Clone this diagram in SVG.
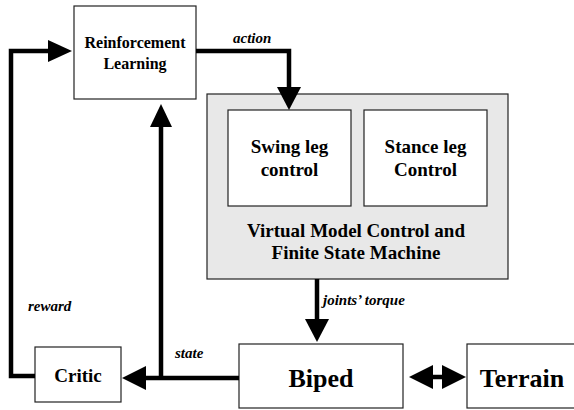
<svg xmlns="http://www.w3.org/2000/svg" width="574" height="410" viewBox="0 0 574 410">
<style>
.box{fill:#fff;stroke:#222;stroke-width:1.2}
.grey{fill:#e8e8e8;stroke:#222;stroke-width:1.2}
.t{font-family:"Liberation Serif","Times New Roman",serif;font-weight:bold;fill:#000;text-anchor:middle}
.lbl{font-family:"Liberation Serif","Times New Roman",serif;font-style:italic;font-weight:bold;font-size:15px;fill:#000}
.ln{fill:none;stroke:#000;stroke-width:4.5}
.ah{fill:#000}
</style>
<rect width="574" height="410" fill="#fff"/>
<g id="vmc">
<rect class="grey" x="207" y="94" width="301" height="185"/>
<text class="t" font-size="19" x="356" y="237">Virtual Model Control and</text>
<text class="t" font-size="19" x="356" y="259">Finite State Machine</text>
</g>
<g id="rl">
<rect class="box" x="74" y="6" width="122" height="93"/>
<text class="t" font-size="16" x="135" y="48">Reinforcement</text>
<text class="t" font-size="16" x="135" y="69">Learning</text>
</g>
<g id="swing">
<rect class="box" x="228" y="110" width="123" height="96"/>
<text class="t" font-size="19" x="289.5" y="153">Swing leg</text>
<text class="t" font-size="19" x="289.5" y="176">control</text>
</g>
<g id="stance">
<rect class="box" x="364" y="110" width="123" height="96"/>
<text class="t" font-size="19" x="425.5" y="153">Stance leg</text>
<text class="t" font-size="19" x="425.5" y="176">Control</text>
</g>
<g id="critic">
<rect class="box" x="35" y="347" width="86" height="55"/>
<text class="t" font-size="19" x="78" y="382">Critic</text>
</g>
<g id="biped">
<rect class="box" x="239" y="344" width="164" height="64"/>
<text class="t" font-size="26" x="321" y="387">Biped</text>
</g>
<g id="terrain">
<rect class="box" x="467" y="344" width="110" height="64"/>
<text class="t" font-size="26" x="522" y="387">Terrain</text>
</g>
<g id="connectors">
<path class="ln" d="M196,51 H289 V89"/>
<polygon class="ah" points="289,110 277,87 301,87"/>
<text class="lbl" x="233" y="43">action</text>
<path class="ln" d="M317,279 V321"/>
<polygon class="ah" points="317,342 305,319 329,319"/>
<text class="lbl" x="323" y="305">joints’ torque</text>
<path class="ln" d="M239,378 H144"/>
<polygon class="ah" points="122,378 146,366 146,390"/>
<path class="ln" d="M161,380 V124"/>
<polygon class="ah" points="161,104 150,127 172,127"/>
<text class="lbl" x="175" y="358">state</text>
<path class="ln" d="M35,376 H11 V51 H50"/>
<polygon class="ah" points="72,51 48,40 48,62"/>
<text class="lbl" x="28" y="311">reward</text>
<path class="ln" d="M431,377 H444"/>
<polygon class="ah" points="409,377 433,365 433,389"/>
<polygon class="ah" points="466,377 442,365 442,389"/>
</g>
</svg>
